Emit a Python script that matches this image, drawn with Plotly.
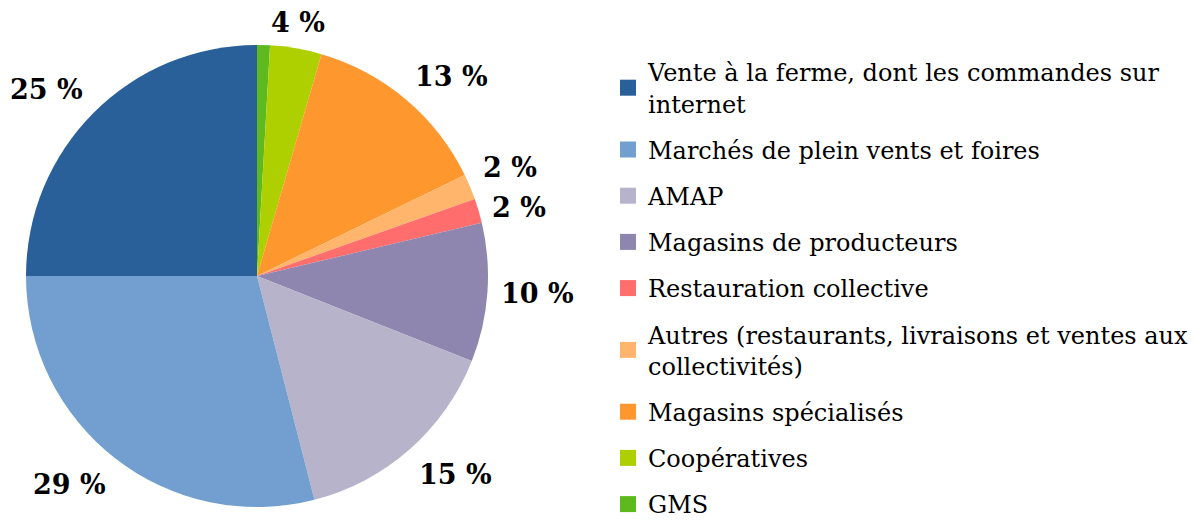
import math
import plotly.graph_objects as go

# ---- data ----
categories = [
    "Vente à la ferme, dont les commandes sur<br>internet",
    "Marchés de plein vents et foires",
    "AMAP",
    "Magasins de producteurs",
    "Restauration collective",
    "Autres (restaurants, livraisons et ventes aux<br>collectivités)",
    "Magasins spécialisés",
    "Coopératives",
    "GMS",
]
values = [25.0, 29.0, 15.0, 9.7, 1.7, 1.8, 13.3, 3.6, 0.9]
pct_labels = ["25 %", "29 %", "15 %", "10 %", "2 %", "2 %", "13 %", "4 %", ""]

# ---- style ----
colors = ["#2a6099", "#729fcf", "#b7b3ca", "#8e86ae", "#ff6d6d",
          "#ffb66c", "#ff972f", "#aecf00", "#5eb91e"]
W, H = 1195, 524
CX, CY, R = 257, 276, 231
SERIF = "DejaVu Serif"

fig = go.Figure()
# slices drawn clockwise from 12 o'clock in reverse legend order
fig.add_trace(go.Pie(
    labels=categories[::-1],
    values=values[::-1],
    sort=False,
    direction="clockwise",
    rotation=0,
    marker=dict(colors=colors[::-1], line=dict(width=0)),
    textinfo="none",
    showlegend=False,
    hoverinfo="label+percent",
    domain=dict(x=[(CX - R) / W, (CX + R) / W],
                y=[1 - (CY + R) / H, 1 - (CY - R) / H]),
))

# legend entries (one group per category, to allow the spacing of the original)
for i, (name, col) in enumerate(zip(categories, colors)):
    fig.add_trace(go.Scatter(
        x=[None], y=[None], mode="markers", name=name,
        marker=dict(symbol="square", size=17, color=col),
        legendgroup=str(i), showlegend=True, hoverinfo="skip",
    ))

# percentage labels placed outside each slice, at its mid-angle
total = sum(values)
start = 90.0
annotations = []
for v, txt in zip(values, pct_labels):
    span = 360.0 * v / total
    mid = math.radians(start + span / 2)
    start += span
    if not txt:
        continue
    c, s = math.cos(mid), math.sin(mid)
    px = CX + 1.05 * R * c
    py = CY - 1.05 * R * s
    xa = "left" if c > 0.2 else ("right" if c < -0.2 else "center")
    if s > 0.3:
        ya, ysh = "bottom", -3
    elif s < -0.3:
        ya, ysh = "top", 1
    else:
        ya, ysh = "middle", 0
    annotations.append(dict(
        x=px / W, y=1 - py / H, xref="paper", yref="paper",
        text=f"<b>{txt}</b>", showarrow=False, xanchor=xa, yanchor=ya,
        yshift=ysh,
        font=dict(family=SERIF, size=27, color="#000000"),
    ))

fig.update_layout(
    width=W, height=H,
    margin=dict(l=0, r=0, t=0, b=0, autoexpand=False),
    paper_bgcolor="white", plot_bgcolor="white",
    xaxis=dict(visible=False), yaxis=dict(visible=False),
    annotations=annotations,
    legend=dict(
        x=(648 - 40) / W, xanchor="left",
        y=1 - 50 / H, yanchor="top",
        font=dict(family=SERIF, size=24, color="#000000"),
        traceorder="grouped", tracegroupgap=12,
        bgcolor="rgba(0,0,0,0)", itemclick=False, itemdoubleclick=False,
    ),
)

fig.write_html("out.html", config={"displayModeBar": False},
               post_script="document.body.style.margin='0px';")
